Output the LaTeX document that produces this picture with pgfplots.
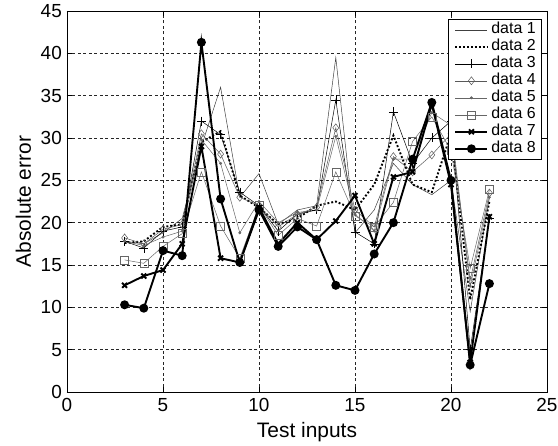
\documentclass[border=0pt]{standalone}
\usepackage{pgfplots}
\pgfplotsset{compat=1.18}
\usepackage{pgfplotstable}
\usepackage{fontspec}
\setmainfont{Liberation Sans}

% absolute error per test input, 8 runs
\pgfplotstableread{
x  d1   d2   d3   d4   d5   d6   d7   d8
3  17.8 17.6 17.8 18.2 17.8 15.6 12.6 10.3
4  17.5 17.8 17.0 17.5 17.3 15.2 13.7 9.9
5  18.8 19.5 19.0 19.2 18.3 17.2 14.4 16.7
6  20.5 19.8 19.5 19.8 19.0 18.7 17.5 16.1
7  29.0 29.5 32.0 30.5 29.8 26.0 29.0 41.3
8  36.0 30.8 30.4 28.1 27.0 19.6 15.8 22.8
9  23.0 23.2 23.6 23.0 18.8 15.8 15.3 15.3
10 25.8 21.8 22.0 22.0 22.5 22.0 21.8 21.5
11 19.8 19.8 19.0 19.5 20.0 18.5 17.5 17.2
12 21.5 20.5 21.0 21.0 21.2 20.5 20.0 19.5
13 22.0 22.0 21.5 21.8 21.5 19.6 18.0 18.0
14 39.5 22.5 34.5 31.2 30.2 26.0 20.2 12.6
15 18.8 21.5 18.9 21.5 21.0 20.8 23.2 12.0
16 21.5 24.5 17.5 19.5 19.0 19.5 17.5 16.3
17 27.0 30.3 33.1 27.8 27.5 22.4 25.4 20.0
18 24.5 24.5 27.0 26.0 27.5 29.6 26.0 27.5
19 23.3 23.6 30.0 28.0 33.0 32.5 34.0 34.2
20 25.0 30.5 32.0 30.5 31.5 28.5 24.5 25.0
21 9.5  10.9 5.0  13.2 12.5 14.6 3.5  3.2
22 23.0 22.5 20.5 23.5 23.0 23.9 20.7 12.8
}\errtab

\begin{document}
\begin{tikzpicture}
\begin{axis}[
    scale only axis,
    width=480bp, height=381bp,
    xmin=0, xmax=25, ymin=0, ymax=45,
    xtick={0,5,...,25}, ytick={0,5,...,45},
    grid=major,
    major grid style={dash pattern=on 3bp off 2.5bp, black!85, line width=0.5bp},
    tick align=inside,
    major tick length=5bp,
    tick style={black, line width=0.6bp},
    axis line style={black, line width=0.8bp},
    /pgf/number format/assume math mode=true,
    ticklabel style={font=\fontsize{19}{21}\selectfont, inner sep=0pt},
    xticklabel style={anchor=north, yshift=-6bp},
    yticklabel style={anchor=east, xshift=-5bp},
    label style={font=\fontsize{21}{23}\selectfont, inner sep=0pt},
    xlabel={Test inputs}, ylabel={Absolute error},
    xlabel style={at={(axis description cs:0.5,0)}, anchor=base, yshift=-45bp},
    ylabel style={at={(axis description cs:-0.0906,0.5)}, anchor=center},
    legend style={at={(1,1)}, xshift=-5bp, yshift=-8bp, anchor=north east,
        draw=black, line width=0.6bp, inner xsep=6bp, inner ysep=2bp,
        font=\fontsize{16}{17}\selectfont, row sep=0pt, column sep=3bp,
        nodes={inner sep=0pt, text height=12bp, text depth=5bp},
        cells={anchor=west}},
    legend image code/.code={\draw[mark repeat=2,mark phase=2,#1]
        plot coordinates {(0bp,0bp) (16bp,0bp) (32bp,0bp)};},
    every axis plot/.append style={black},
]
\addplot[line width=0.5bp, gray!50!black] table[x=x,y=d1]{\errtab};
\addplot[line width=1.9bp, dotted] table[x=x,y=d2]{\errtab};
\addplot[line width=0.5bp, mark=+, mark size=4.5bp] table[x=x,y=d3]{\errtab};
\addplot[line width=0.5bp, gray!70!black, mark=diamond, mark size=4bp, mark options={solid, fill=white}] table[x=x,y=d4]{\errtab};
\addplot[line width=0.5bp, gray!80!black, mark=*, mark size=1.2bp] table[x=x,y=d5]{\errtab};
\addplot[line width=0.5bp, gray!80!black, mark=square, mark size=4bp] table[x=x,y=d6]{\errtab};
\addplot[line width=1.9bp, mark=x, mark size=3.5bp] table[x=x,y=d7]{\errtab};
\addplot[line width=1.9bp, mark=*, mark size=3.5bp] table[x=x,y=d8]{\errtab};
\legend{data 1, data 2, data 3, data 4, data 5, data 6, data 7, data 8}
\end{axis}
\pgfresetboundingbox
\path[use as bounding box] (current axis.south west) ++(-67bp,-54bp) rectangle ([shift={(11bp,11bp)}]current axis.north east);
\end{tikzpicture}
\end{document}
